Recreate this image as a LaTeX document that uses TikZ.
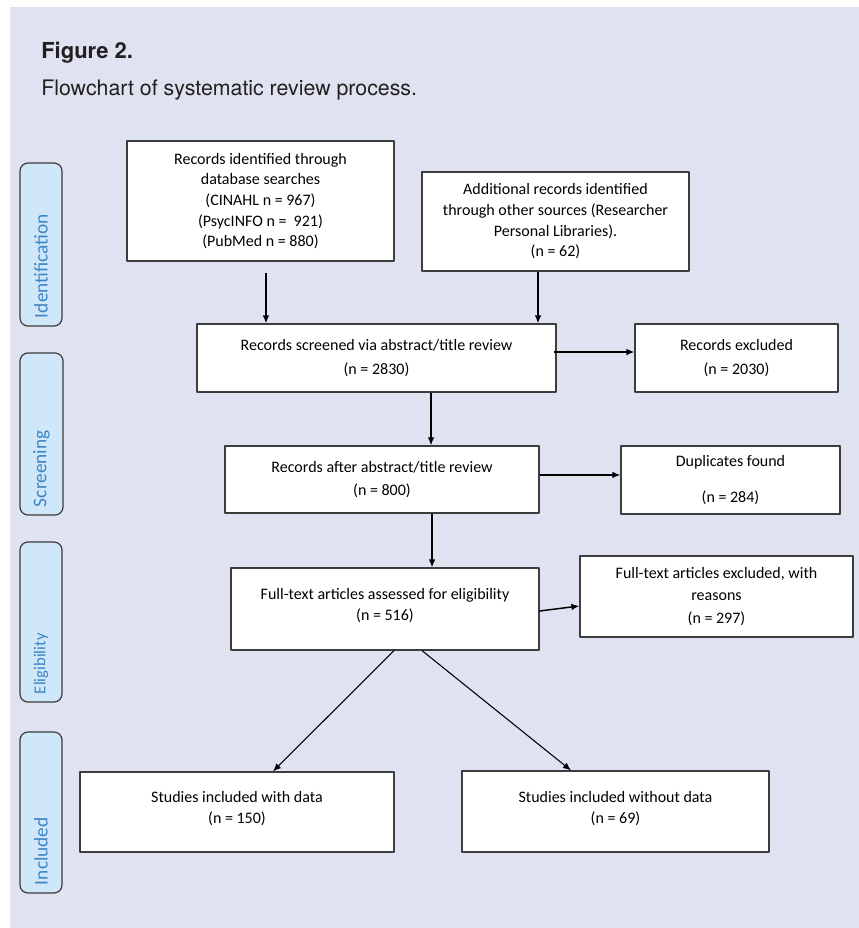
\documentclass[tikz,border=0pt]{standalone}
\usepackage{fontspec}
\setmainfont{Carlito}
\newfontfamily\headfont{TeX Gyre Heros}
\usetikzlibrary{arrows.meta}
\definecolor{bgpanel}{HTML}{DFE2F1}
\definecolor{tabfill}{HTML}{CFE7F8}
\definecolor{tabtext}{HTML}{3D85C6}
\definecolor{edgegray}{HTML}{3C3C3C}
\definecolor{headink}{HTML}{231F20}
\begin{document}
\begin{tikzpicture}[x=0.75pt,y=-0.75pt,line join=round,
	box/.style={rectangle,draw=edgegray,line width=0.9pt,fill=white,align=center,inner sep=0pt,font=\fontsize{12}{15.5}\selectfont},
	tab/.style={rectangle,rounded corners=6pt,draw=edgegray,line width=0.9pt,fill=tabfill,text=tabtext,rotate=90,inner xsep=6pt,inner ysep=0pt,align=left,font=\fontsize{14.5}{16}\selectfont},
	arr/.style={-{Latex[length=6pt,width=5pt]},line width=1.1pt,black}]
	\useasboundingbox (0,0) rectangle (859,928);
	\fill[white] (0,0) rectangle (859,928);
	\fill[bgpanel] (10,7) rectangle (859,928);
	%Heading
	\path(41,58)node[anchor=base west,inner sep=0pt,text=headink,font=\headfont\fontsize{16.5}{20}\selectfont\bfseries](figtitle){Figure 2.}
	(41,95)node[anchor=base west,inner sep=0pt,text=headink,font=\headfont\fontsize{16}{20}\selectfont](figsub){Flowchart of systematic review process.}
	;
	%Side tabs
	\path(41,244.5)node[tab,minimum width=122.25pt,text width=110.25pt,minimum height=31.5pt](tabid){Identification}
	(41.5,434)node[tab,minimum width=121.5pt,text width=109.5pt,minimum height=32.25pt](tabscr){Screening}
	(41,622)node[tab,minimum width=120pt,text width=108pt,minimum height=31.5pt,font=\fontsize{12.5}{14}\selectfont](tabelig){Eligibility}
	(41,812.5)node[tab,minimum width=120.75pt,text width=108.75pt,minimum height=31.5pt](tabinc){Included}
	;
	%Identification
	\path(260.5,201)node[box,minimum width=200.25pt,minimum height=90pt](dbsearch){Records identified through\\ database searches\\ (CINAHL n = 967)\\ (PsycINFO n = \ 921)\\ (PubMed n = 880)}
	(555.5,221.5)node[box,minimum width=200.25pt,minimum height=74.25pt](othersrc){Additional records identified\\ through other sources (Researcher\\ Personal Libraries).\\ (n = 62)}
	;
	%Screening
	\path(376.5,358)node[box,minimum width=269.25pt,minimum height=51pt](screened){Records screened via abstract/title review\\[2pt] (n = 2830)}
	(736.5,358)node[box,minimum width=152.25pt,minimum height=51pt](recexcl){Records excluded\\[2pt] (n = 2030)}
	(382,479.5)node[box,minimum width=235.5pt,minimum height=50.25pt](afterrev){Records after abstract/title review\\[2pt] (n = 800)}
	(730.5,480)node[box,minimum width=164.25pt,minimum height=51pt](dupl){Duplicates found\\[12pt] (n = 284)}
	;
	%Eligibility
	\path(385,609)node[box,minimum width=231pt,minimum height=61.5pt](fulltext){Full-text articles assessed for eligibility\\ (n = 516)\\[-9pt]}
	(716.5,596.5)node[box,minimum width=204.75pt,minimum height=60.75pt](ftexcl){Full-text articles excluded, with\\[1.5pt] reasons\\[1.5pt] (n = 297)}
	;
	%Included
	\path(237,812)node[box,minimum width=235.5pt,minimum height=60pt](incdata){Studies included with data\\ (n = 150)\\[-9pt]}
	(615.5,811.5)node[box,minimum width=230.25pt,minimum height=60.75pt](incnodata){Studies included without data\\ (n = 69)\\[-9pt]}
	;
	%Arrows
	\coordinate (aout) at ([xshift=4.1pt,yshift=-8.25pt]dbsearch.south);
	\coordinate (bout) at ([xshift=-13.1pt]othersrc.south);
	\coordinate (sout) at ([xshift=-2.25pt,yshift=4.5pt]screened.east);
	\coordinate (sdown) at ([xshift=40.9pt]screened.south);
	\coordinate (aright) at ([yshift=3.4pt]afterrev.east);
	\coordinate (adown) at ([xshift=37.5pt]afterrev.south);
	\draw[arr](aout)--(aout|-screened.north);
	\draw[arr](bout)--(bout|-screened.north);
	\draw[arr](sout)--(sout-|recexcl.west);
	\draw[arr](sdown)--(sdown|-afterrev.north);
	\draw[arr](aright)--(aright-|dupl.west);
	\draw[arr](adown)--(adown|-fulltext.north);
	\draw[arr]([yshift=-1.5pt]fulltext.east)--([yshift=-7.1pt]ftexcl.west);
	%%%
	\draw[arr,line width=0.8pt]([xshift=6.75pt]fulltext.south)--([xshift=27pt]incdata.north);
	\draw[arr,line width=0.8pt]([xshift=27.75pt]fulltext.south)--([xshift=-33.4pt]incnodata.north);
\end{tikzpicture}
\end{document}
